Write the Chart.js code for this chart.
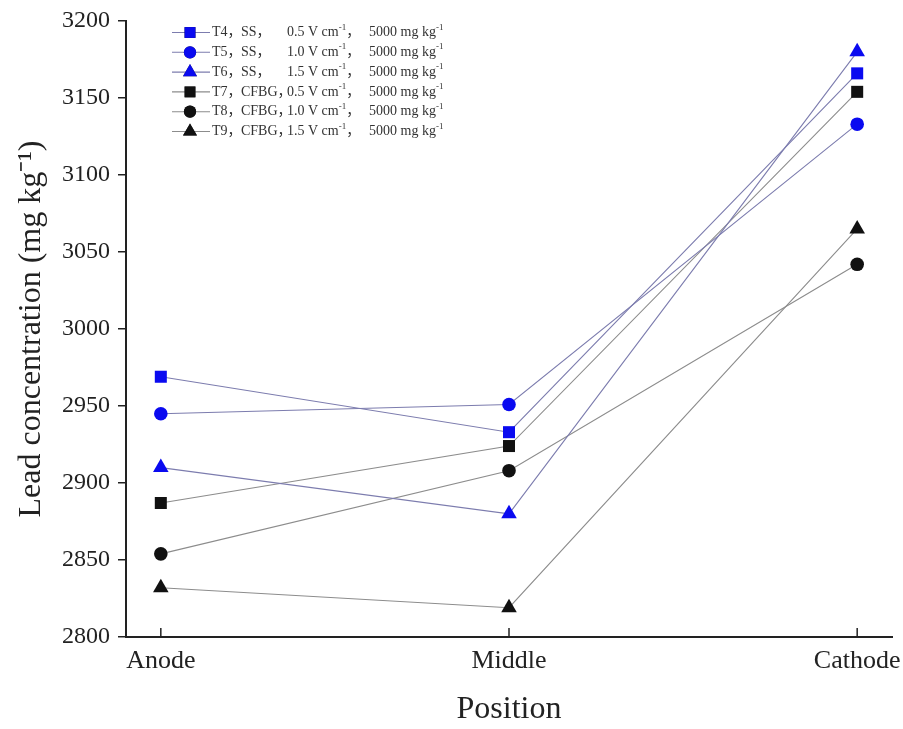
<!DOCTYPE html>
<html>
<head>
<meta charset="utf-8">
<script src="https://cdn.jsdelivr.net/npm/chart.js@4.4.1/dist/chart.umd.min.js"></script>
<style>
  html, body { margin: 0; padding: 0; background: #fff; }
  #wrap { width: 903px; height: 729px; }
</style>
</head>
<body>
<div id="wrap"><canvas id="leadChart" width="903" height="729"></canvas></div>
<script>
// categorias del eje x
const positions = ['Anode', 'Middle', 'Cathode'];

// valores (mg/kg)
const t4 = [2969, 2933, 3166];
const t5 = [2945, 2951, 3133];
const t6 = [2910, 2880, 3180];
const t7 = [2887, 2924, 3154];
const t8 = [2854, 2908, 3042];
const t9 = [2832, 2819, 3065];

// textos de la leyenda
const treatments = ['T4', 'T5', 'T6', 'T7', 'T8', 'T9'];
const electrodes = ['SS', 'SS', 'SS', 'CFBG', 'CFBG', 'CFBG'];
const voltages = ['0.5', '1.0', '1.5', '0.5', '1.0', '1.5'];
const dose = '5000';

// ticks del eje y
const yTicks = [2800, 2850, 2900, 2950, 3000, 3050, 3100, 3150, 3200];

const BLUE = '#0a0af0';
const BLACK = '#111111';
const BLUE_LINE = '#7c7cae';
const GRAY_LINE = '#8c8c8c';
const SERIF = '"Liberation Serif", "Times New Roman", serif';
const LEG_FONT = '"Liberation Serif", "Noto Sans CJK SC", serif';

function serie(vals, label, color, lineColor, style, radius) {
  return {
    label: label,
    data: vals.map((v, i) => ({ x: i, y: v })),
    borderColor: lineColor,
    borderWidth: 1.1,
    backgroundColor: color,
    pointBackgroundColor: color,
    pointBorderColor: color,
    pointBorderWidth: 0,
    pointStyle: style,
    pointRadius: radius,
    pointHoverRadius: radius,
    tension: 0
  };
}

const datasets = [
  serie(t4, 'T4', BLUE, BLUE_LINE, 'rect', 8.5),
  serie(t5, 'T5', BLUE, BLUE_LINE, 'circle', 6.8),
  serie(t6, 'T6', BLUE, BLUE_LINE, 'triangle', 9),
  serie(t7, 'T7', BLACK, GRAY_LINE, 'rect', 8.5),
  serie(t8, 'T8', BLACK, GRAY_LINE, 'circle', 6.8),
  serie(t9, 'T9', BLACK, GRAY_LINE, 'triangle', 9)
];

// texto con superindice
function drawRich(ctx, parts, x, y, size) {
  let cx = x;
  parts.forEach(p => {
    if (typeof p === 'string') {
      ctx.font = size + 'px ' + LEG_FONT;
      ctx.fillText(p, cx, y);
      cx += ctx.measureText(p).width;
    } else {
      ctx.font = Math.round(size * 0.65) + 'px ' + LEG_FONT;
      ctx.fillText(p.sup, cx, y - size * 0.38);
      cx += ctx.measureText(p.sup).width;
    }
  });
}

// leyenda y ticks hacia dentro en el eje x
const extras = {
  id: 'extras',
  afterDraw(chart) {
    const ctx = chart.ctx;
    const xs = chart.scales.x;
    const bottom = chart.chartArea.bottom;
    ctx.save();
    ctx.strokeStyle = '#222';
    ctx.lineWidth = 1.5;
    positions.forEach((p, i) => {
      const px = xs.getPixelForValue(i);
      ctx.beginPath();
      ctx.moveTo(px, bottom);
      ctx.lineTo(px, bottom - 9);
      ctx.stroke();
    });

    ctx.textBaseline = 'middle';
    chart.data.datasets.forEach((ds, i) => {
      const y = 32.5 + i * 19.8;
      ctx.strokeStyle = ds.borderColor;
      ctx.lineWidth = 1.1;
      ctx.beginPath();
      ctx.moveTo(172, y);
      ctx.lineTo(210, y);
      ctx.stroke();
      Chart.helpers.drawPoint(ctx, {
        pointStyle: ds.pointStyle,
        radius: ds.pointRadius * 0.9,
        rotation: 0,
        borderWidth: 0
      }, 190, y);
      ctx.fillStyle = ds.pointBackgroundColor;
      ctx.fill();
      ctx.fillStyle = '#333';
      drawRich(ctx, [treatments[i] + '，'], 212, y, 14);
      drawRich(ctx, [electrodes[i] + '，'], 241, y, 14);
      drawRich(ctx, [voltages[i] + ' V cm', { sup: '-1' }, '，'], 287, y, 14);
      drawRich(ctx, [dose + ' mg kg', { sup: '-1' }], 369, y, 14);
    });
    ctx.restore();
  }
};

const ctx = document.getElementById('leadChart').getContext('2d');

new Chart(ctx, {
  type: 'line',
  data: { datasets: datasets },
  options: {
    responsive: false,
    animation: false,
    layout: { padding: { top: 21, right: 11, left: 0, bottom: 0 } },
    plugins: {
      legend: { display: false },
      tooltip: { enabled: false }
    },
    scales: {
      x: {
        type: 'linear',
        min: -0.1,
        max: 2.1,
        afterBuildTicks(s) { s.ticks = positions.map((p, i) => ({ value: i })); },
        afterFit(s) { s.height = 92; s.paddingLeft = 0; s.paddingRight = 0; },
        grid: { display: true, drawOnChartArea: false, drawTicks: false },
        border: { display: true, color: '#222', width: 2 },
        ticks: {
          padding: 9,
          color: '#222',
          font: { family: SERIF, size: 26 },
          callback: v => positions[v]
        },
        title: {
          display: true,
          text: 'Position',
          color: '#222',
          padding: { top: 0, bottom: 0 },
          font: { family: SERIF, size: 32 }
        }
      },
      y: {
        min: 2800,
        max: 3200,
        afterBuildTicks(s) { s.ticks = yTicks.map(v => ({ value: v })); },
        afterFit(s) { s.width = 126; s.paddingTop = 0; s.paddingBottom = 0; },
        grid: { drawOnChartArea: false, drawTicks: true, tickLength: 8, color: '#222', lineWidth: 1.5 },
        border: { display: true, color: '#222', width: 2 },
        ticks: {
          padding: 8,
          color: '#222',
          font: { family: SERIF, size: 24 },
          callback: v => String(v)
        },
        title: {
          display: true,
          text: 'Lead concentration (mg kg⁻¹)',
          color: '#222',
          padding: { top: 12, bottom: 0 },
          font: { family: SERIF, size: 32 }
        }
      }
    }
  },
  plugins: [extras]
});
</script>
</body>
</html>
